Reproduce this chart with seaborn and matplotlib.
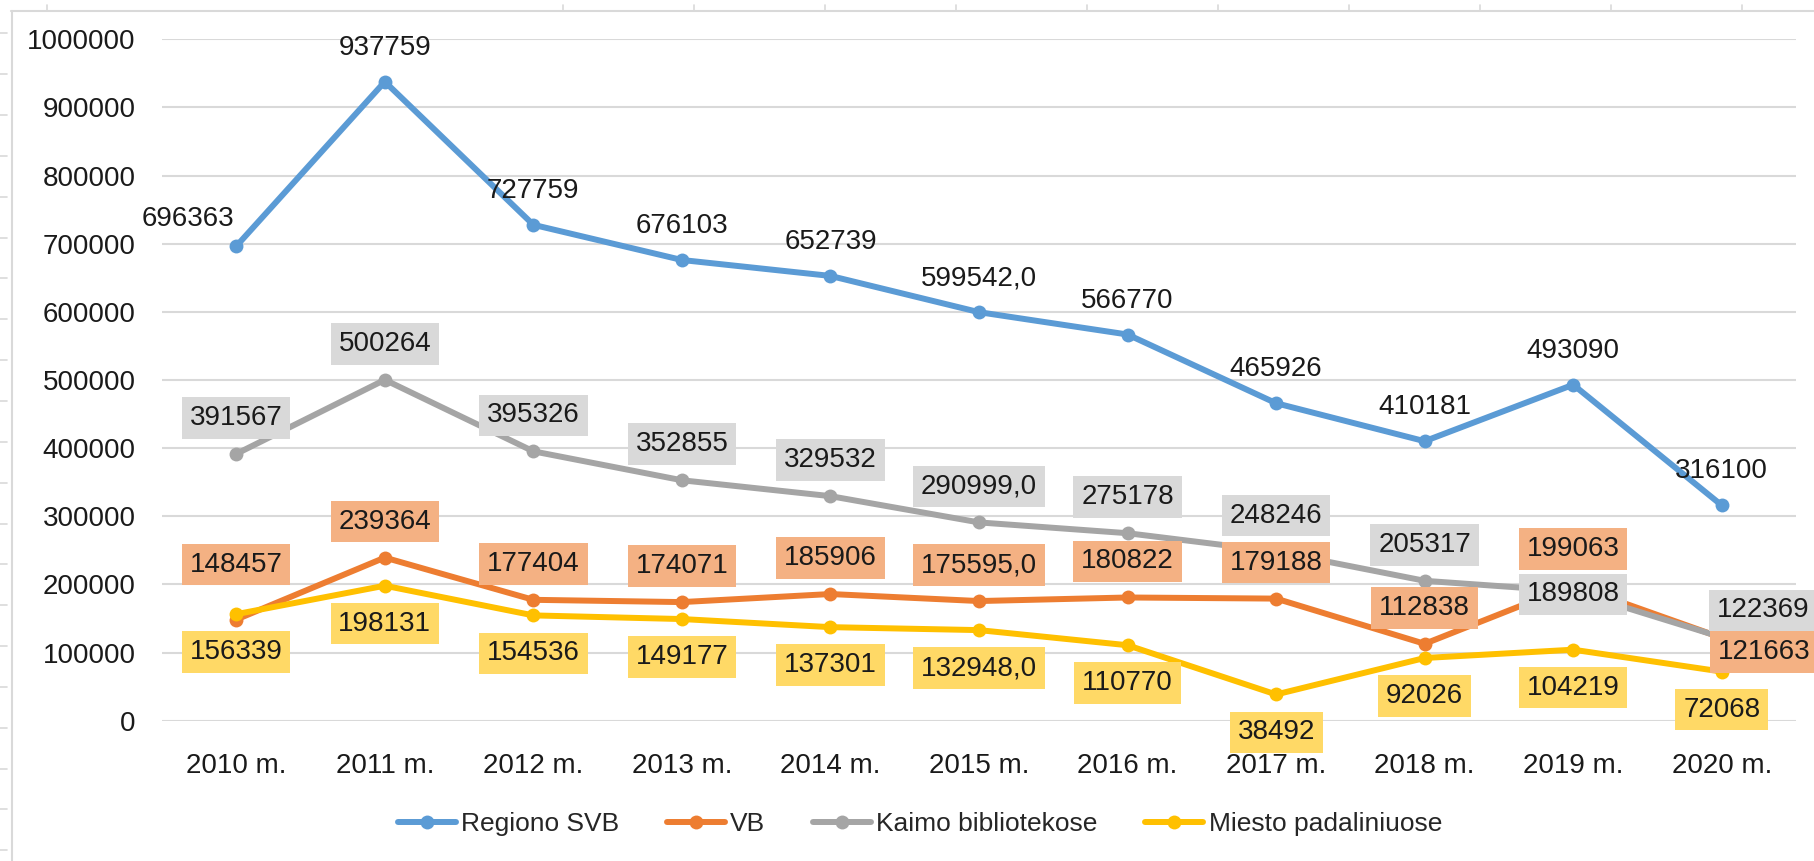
import numpy as np
import pandas as pd
import matplotlib
matplotlib.use('Agg')
from matplotlib import pyplot as plt
from matplotlib.lines import Line2D
import seaborn as sns

# data
years = ['2010 m.', '2011 m.', '2012 m.', '2013 m.', '2014 m.', '2015 m.',
         '2016 m.', '2017 m.', '2018 m.', '2019 m.', '2020 m.']
regiono_svb = [696363, 937759, 727759, 676103, 652739, 599542, 566770, 465926, 410181, 493090, 316100]
vb = [148457, 239364, 177404, 174071, 185906, 175595, 180822, 179188, 112838, 199063, 121663]
kaimo = [391567, 500264, 395326, 352855, 329532, 290999, 275178, 248246, 205317, 189808, 122369]
miesto = [156339, 198131, 154536, 149177, 137301, 132948, 110770, 38492, 92026, 104219, 72068]
series_names = ['Regiono SVB', 'VB', 'Kaimo bibliotekose', 'Miesto padaliniuose']
y_ticks = list(range(0, 1000001, 100000))
decimal_year = '2015 m.'   # this year's labels carry a ",0" in the source

colors = ['#5B9BD5', '#ED7D31', '#A5A5A5', '#FFC000']
box_colors = [None, '#F4B183', '#D9D9D9', '#FFD966']
# default label offset (pixels) per series, plus the spots Excel moved
default_off = [(0, 34), (0, 36), (0, 36), (0, -38)]
special_off = {(0, 0): (-48, 27), (1, 0): (0, 55), (2, 9): (0, -3),
               (2, 10): (41, 27), (1, 10): (42, -14)}

sns.set_theme(style='white')
plt.rcParams['font.family'] = ['Liberation Sans', 'DejaVu Sans']

values = [regiono_svb, vb, kaimo, miesto]
df = pd.DataFrame({
    'year': years * len(series_names),
    'value': [v for s in values for v in s],
    'series': [n for n in series_names for _ in years],
})

W, H = 1814, 861
fig = plt.figure(figsize=(W / 100, H / 100), dpi=100)
ax = fig.add_axes([162 / W, (H - 720.7) / H, 1634 / W, 681.4 / H])

sns.lineplot(data=df, x='year', y='value', hue='series', hue_order=series_names,
             palette=colors, marker='o', markersize=10, markeredgewidth=0,
             linewidth=4.3, sort=False, ax=ax)

fs = 20
for si, (name, vals) in enumerate(zip(series_names, values)):
    for i, (yr, v) in enumerate(zip(years, vals)):
        txt = f'{v},0' if yr == decimal_year else f'{v}'
        off = special_off.get((si, i), default_off[si])
        bbox = None
        if box_colors[si]:
            bbox = dict(boxstyle='square,pad=0.28', fc=box_colors[si], ec='none')
        ax.annotate(txt, (i, v), xytext=off, textcoords='offset pixels',
                    ha='center', va='center', fontsize=fs, color='#1a1a1a',
                    bbox=bbox, zorder=5, annotation_clip=False)

ax.set_xlim(-0.5, len(years) - 0.5)
ax.set_ylim(0, 1000000)
ax.set_yticks(y_ticks)
ax.set_yticklabels([str(t) for t in y_ticks])
ax.set_xlabel('')
ax.set_ylabel('')
ax.yaxis.grid(True, color='#D9D9D9', linewidth=1.5)
ax.set_axisbelow(True)
for sp in ax.spines.values():
    sp.set_visible(False)
ax.tick_params(axis='y', length=0, pad=19, labelsize=fs, labelcolor='#1a1a1a')
ax.tick_params(axis='x', length=0, pad=23, labelsize=fs, labelcolor='#1a1a1a')

ax.legend(loc='center', bbox_to_anchor=(920 / W, 1 - 824 / H), bbox_transform=fig.transFigure,
          ncol=4, frameon=False, fontsize=19, handlelength=2.2, columnspacing=1.8,
          handletextpad=0.2)

# screenshot frame of the sheet around the chart
grey = '#D9D9D9'
fig.add_artist(Line2D([11 / W, 1], [1 - 10.7 / H] * 2, transform=fig.transFigure, color=grey, lw=1.5))
fig.add_artist(Line2D([11.7 / W] * 2, [0, 1 - 10.7 / H], transform=fig.transFigure, color=grey, lw=1.5))
for yy in np.arange(33.3, H, 40.85):
    fig.add_artist(Line2D([0, 7 / W], [1 - yy / H] * 2, transform=fig.transFigure, color=grey, lw=1.2))
for xx in [47] + list(np.arange(563, 1750, 131)):
    fig.add_artist(Line2D([xx / W] * 2, [1 - 5 / H, 1 - 10.7 / H], transform=fig.transFigure, color=grey, lw=1.2))

fig.savefig('out.png', dpi=100, facecolor='white')
